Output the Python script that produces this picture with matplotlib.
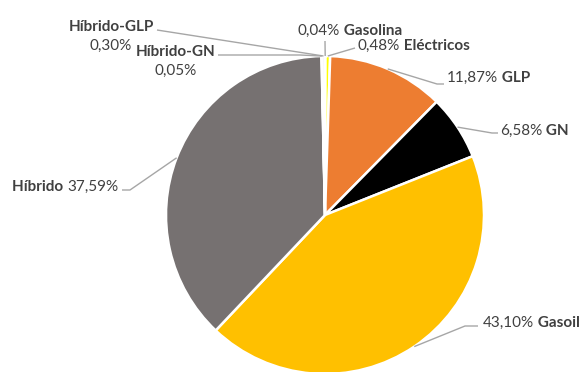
import matplotlib.pyplot as plt
import numpy as np

# data (clockwise from 12 o'clock)
categorias = ["Gasolina", "Eléctricos", "GLP", "GN", "Gasoil", "Híbrido", "Híbrido-GN", "Híbrido-GLP"]
porcentajes = [0.04, 0.48, 11.87, 6.58, 43.10, 37.59, 0.05, 0.30]
colores = ["#F2F2F2", "#FFFF00", "#ED7D31", "#000000", "#FFC000", "#767171", "#F2F2F2", "#F2F2F2"]

W, H = 579, 372
fig = plt.figure(figsize=(W / 100, H / 100), dpi=100)
ax = fig.add_axes([0, 0, 1, 1])

cx, cy, r = 325, H - 215, 159
ax.pie(porcentajes, colors=colores, startangle=90, counterclock=False,
       center=(cx, cy), radius=r,
       wedgeprops=dict(edgecolor="white", linewidth=1.8))
ax.set_xlim(0, W)
ax.set_ylim(0, H)
ax.set_aspect("equal")
ax.axis("off")

plt.rcParams["font.family"] = ["Lato", "DejaVu Sans"]
TXT = "#404040"
LINE = "#A6A6A6"
FS = 11

# mid angle of each wedge -> point on the rim
total = sum(porcentajes)
cum = np.cumsum([0] + porcentajes[:-1])
def rim(i):
    frac = (cum[i] + porcentajes[i] / 2) / total
    a = np.deg2rad(90 - 360 * frac)
    return cx + r * np.cos(a), cy + r * np.sin(a)

def leader(i, pts):
    x0, y0 = rim(i)
    xs = [x0] + [p[0] for p in pts]
    ys = [y0] + [H - p[1] for p in pts]
    ax.plot(xs, ys, color=LINE, lw=1, solid_capstyle="butt")

def pct(v):
    return f"{v:.2f}".replace(".", ",") + "%"

def two_part(x, y, first, second, bold_first, ha="left"):
    w1 = "bold" if bold_first else "normal"
    w2 = "normal" if bold_first else "bold"
    if ha == "left":
        t = ax.text(x, H - y, first, ha="left", va="center", fontsize=FS, color=TXT, fontweight=w1)
        ax.annotate(" " + second, xy=(1, 0.5), xycoords=t, ha="left", va="center",
                    fontsize=FS, color=TXT, fontweight=w2)
    else:
        t = ax.text(x, H - y, second, ha="right", va="center", fontsize=FS, color=TXT, fontweight=w2)
        ax.annotate(first + " ", xy=(0, 0.5), xycoords=t, ha="right", va="center",
                    fontsize=FS, color=TXT, fontweight=w1)

# Gasolina
leader(0, [(325, 41)])
two_part(298, 31, pct(porcentajes[0]), categorias[0], False)
# Eléctricos
leader(1, [(355, 48)])
two_part(358, 46, pct(porcentajes[1]), categorias[1], False)
# GLP
leader(2, [(437, 84), (444, 84)])
two_part(447, 78, pct(porcentajes[2]), categorias[2], False)
# GN
leader(3, [(492, 133), (498, 133)])
two_part(500, 131, pct(porcentajes[3]), categorias[3], False)
# Gasoil
leader(4, [(465, 326), (478, 326)])
two_part(483, 323, pct(porcentajes[4]), categorias[4], False)
# Híbrido
leader(5, [(130, 190), (122, 190)])
two_part(118, 187, categorias[5], pct(porcentajes[5]), True, ha="right")
# Híbrido-GN
leader(6, [(300, 55), (218, 55)])
ax.text(176, H - 52, categorias[6], ha="center", va="center", fontsize=FS, color=TXT, fontweight="bold")
ax.text(176, H - 71, pct(porcentajes[6]), ha="center", va="center", fontsize=FS, color=TXT)
# Híbrido-GLP
leader(7, [(157, 30)])
ax.text(111, H - 27, categorias[7], ha="center", va="center", fontsize=FS, color=TXT, fontweight="bold")
ax.text(111, H - 46, pct(porcentajes[7]), ha="center", va="center", fontsize=FS, color=TXT)

fig.savefig("out.png", dpi=100)
